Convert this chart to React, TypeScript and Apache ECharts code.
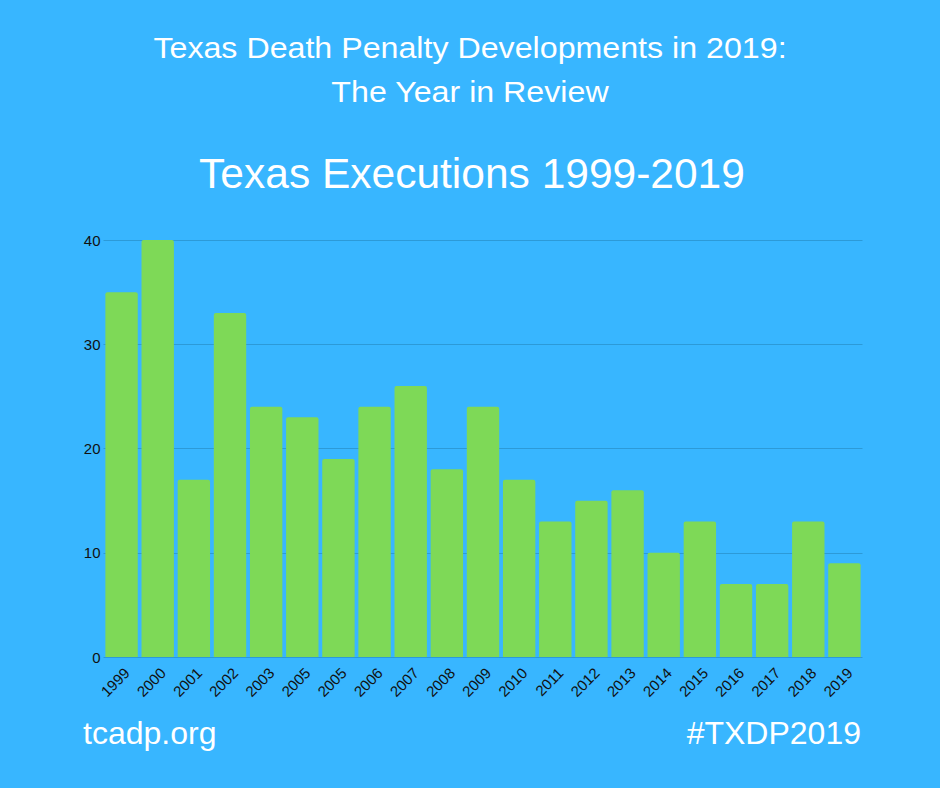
import React, { useEffect, useRef } from "react";
import * as echarts from "echarts";

const years = ["1999","2000","2001","2002","2003","2005","2005","2006","2007","2008","2009","2010","2011","2012","2013","2014","2015","2016","2017","2018","2019"];
const executions = [35,40,17,33,24,23,19,24,26,18,24,17,13,15,16,10,13,7,7,13,9];
const headline1 = "Texas Death Penalty Developments in 2019:";
const headline2 = "The Year in Review";
const chartTitle = "Texas Executions 1999-2019";
const footerLeft = "tcadp.org";
const footerRight = "#TXDP2019";

export default function App() {
  const ref = useRef<HTMLDivElement>(null);
  useEffect(() => {
    document.body.style.margin = "0";
    const chart = echarts.init(ref.current!, null, { renderer: "svg" });
    const font = "Liberation Sans, Arial, sans-serif";
    chart.setOption({
      animation: false,
      backgroundColor: "#38B6FF",
      textStyle: { fontFamily: font },
      grid: { left: 103.5, right: 77.5, top: 240, bottom: 131, containLabel: false },
      xAxis: {
        type: "category",
        data: years,
        axisLine: { show: false },
        axisTick: { show: false },
        axisLabel: { rotate: 45, fontSize: 15, color: "#111", margin: 8, interval: 0, verticalAlign: "top", fontFamily: font },
      },
      yAxis: {
        type: "value",
        min: 0,
        max: 40,
        interval: 10,
        axisLine: { show: false },
        axisTick: { show: false },
        axisLabel: { fontSize: 15, color: "#111", margin: 3, fontFamily: font },
        splitLine: { lineStyle: { color: "#2C9AD8", width: 1 } },
      },
      series: [
        {
          type: "bar",
          data: executions,
          barCategoryGap: "10.4%",
          itemStyle: { color: "#7ED957", borderRadius: [2, 2, 0, 0] },
        },
      ],
      graphic: [
        { type: "text", x: 470, y: 33, scaleX: 1.11, style: { text: headline1, fontSize: 29, fill: "#fff", fontFamily: font, align: "center", verticalAlign: "top" } },
        { type: "text", x: 470, y: 77, scaleX: 1.11, style: { text: headline2, fontSize: 29, fill: "#fff", fontFamily: font, align: "center", verticalAlign: "top" } },
        { type: "text", x: 472, y: 152, style: { text: chartTitle, fontSize: 42.5, fill: "#fff", fontFamily: font, align: "center", verticalAlign: "top" } },
        { type: "text", left: 83, top: 717, style: { text: footerLeft, fontSize: 32, fill: "#fff", fontFamily: font } },
        { type: "text", right: 79, top: 717, style: { text: footerRight, fontSize: 32, fill: "#fff", fontFamily: font } },
      ],
    });
    return () => chart.dispose();
  }, []);
  return <div ref={ref} style={{ width: 940, height: 788 }} />;
}
